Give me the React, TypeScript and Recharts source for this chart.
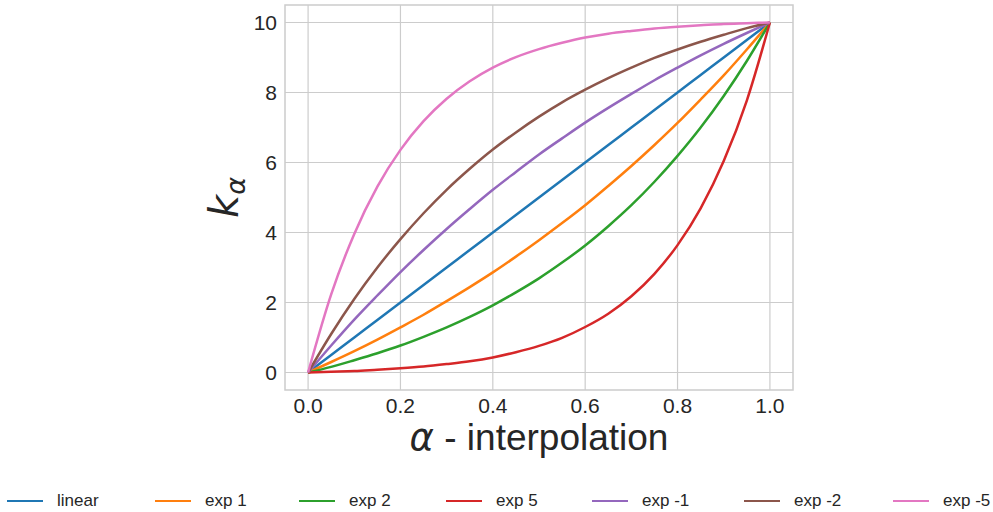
import { LineChart, Line, XAxis, YAxis, CartesianGrid, ReferenceArea } from 'recharts'

// alpha sample points
const alpha = [0, 0.05, 0.1, 0.15, 0.2, 0.25, 0.3, 0.35, 0.4, 0.45, 0.5, 0.55, 0.6, 0.65, 0.7, 0.75, 0.8, 0.85, 0.9, 0.95, 1]

const linear = [0, 0.5, 1, 1.5, 2, 2.5, 3, 3.5, 4, 4.5, 5, 5.5, 6, 6.5, 7, 7.5, 8, 8.5, 9, 9.5, 10]
const exp1 = [0, 0.3, 0.61, 0.94, 1.29, 1.65, 2.04, 2.44, 2.86, 3.31, 3.78, 4.27, 4.78, 5.33, 5.9, 6.5, 7.13, 7.8, 8.49, 9.23, 10]
const exp2 = [0, 0.16, 0.35, 0.55, 0.77, 1.02, 1.29, 1.59, 1.92, 2.29, 2.69, 3.14, 3.63, 4.18, 4.78, 5.45, 6.19, 7.0, 7.9, 8.9, 10]
const exp5 = [0, 0.02, 0.04, 0.08, 0.12, 0.17, 0.24, 0.32, 0.43, 0.58, 0.76, 0.99, 1.3, 1.68, 2.18, 2.82, 3.64, 4.69, 6.04, 7.77, 10]
const expM1 = [0, 0.77, 1.51, 2.2, 2.87, 3.5, 4.1, 4.67, 5.22, 5.73, 6.23, 6.69, 7.14, 7.56, 7.96, 8.35, 8.71, 9.06, 9.39, 9.7, 10]
const expM2 = [0, 1.1, 2.1, 3.0, 3.81, 4.55, 5.22, 5.82, 6.37, 6.86, 7.31, 7.72, 8.08, 8.41, 8.71, 8.99, 9.23, 9.45, 9.65, 9.84, 10]
const expM5 = [0, 2.23, 3.96, 5.31, 6.36, 7.18, 7.82, 8.32, 8.71, 9.01, 9.24, 9.42, 9.57, 9.68, 9.76, 9.83, 9.88, 9.92, 9.96, 9.98, 10]

const xTicks = [0, 0.2, 0.4, 0.6, 0.8, 1]
const yTicks = [0, 2, 4, 6, 8, 10]

const series = [
  { key: 'linear', name: 'linear', values: linear, color: '#1f77b4' },
  { key: 'exp1', name: 'exp 1', values: exp1, color: '#ff7f0e' },
  { key: 'exp2', name: 'exp 2', values: exp2, color: '#2ca02c' },
  { key: 'exp5', name: 'exp 5', values: exp5, color: '#d62728' },
  { key: 'expM1', name: 'exp -1', values: expM1, color: '#9467bd' },
  { key: 'expM2', name: 'exp -2', values: expM2, color: '#8c564b' },
  { key: 'expM5', name: 'exp -5', values: expM5, color: '#e377c2' },
]

// legend item left edges (matplotlib spreads them across the figure)
const legendLeft = [7, 155, 299, 446, 592, 744, 893]

const data = alpha.map((a, i) => {
  const row: Record<string, number> = { a }
  series.forEach((s) => {
    row[s.key] = s.values[i]
  })
  return row
})

const font = '"Liberation Sans", Arial, sans-serif'
const textColor = '#262626'
const gridColor = '#cccccc'

export default function App() {
  return (
    <div style={{ position: 'absolute', left: 0, top: 0, width: 993, height: 512, overflow: 'hidden', background: '#fff', fontFamily: font }}>
      <LineChart width={993} height={512} data={data} margin={{ top: 5, right: 200, left: 225, bottom: 52 }}>
        <CartesianGrid stroke={gridColor} strokeWidth={1.2} horizontalValues={yTicks} verticalValues={xTicks} />
        <ReferenceArea x1={-0.05} x2={1.05} y1={-0.5} y2={10.5} fill="none" stroke={gridColor} strokeWidth={1.5} ifOverflow="visible" />
        <XAxis
          dataKey="a"
          type="number"
          domain={[-0.05, 1.05]}
          ticks={xTicks}
          tickFormatter={(v: number) => v.toFixed(1)}
          axisLine={false}
          tickLine={false}
          tickSize={0}
          tickMargin={8}
          height={70}
          tick={{ fill: textColor, fontSize: 21, fontFamily: font }}
          label={{
            content: ({ viewBox }: any) => (
              <text x={viewBox.x + viewBox.width / 2} y={450} textAnchor="middle" fill={textColor} fontSize={37} fontFamily={font}>
                <tspan fontStyle="italic" fontFamily="DejaVu Sans">α</tspan> - interpolation
              </text>
            ),
          }}
        />
        <YAxis
          type="number"
          domain={[-0.5, 10.5]}
          ticks={yTicks}
          axisLine={false}
          tickLine={false}
          tickSize={0}
          tickMargin={8}
          width={60}
          tick={{ fill: textColor, fontSize: 21, fontFamily: font }}
          label={{
            content: ({ viewBox }: any) => (
              <text
                x={238}
                y={viewBox.y + viewBox.height / 2}
                transform={`rotate(-90, 238, ${viewBox.y + viewBox.height / 2})`}
                textAnchor="middle"
                fill={textColor}
                fontSize={40}
                fontFamily="DejaVu Sans"
                fontStyle="italic"
              >
                k
                <tspan fontSize={27} dy={7}>α</tspan>
              </text>
            ),
          }}
        />
        {series.map((s) => (
          <Line
            key={s.key}
            type="monotone"
            dataKey={s.key}
            name={s.name}
            stroke={s.color}
            strokeWidth={2.5}
            dot={false}
            isAnimationActive={false}
          />
        ))}
      </LineChart>
      {series.map((s, i) => (
        <div
          key={s.key}
          style={{ position: 'absolute', left: legendLeft[i], top: 489, display: 'flex', alignItems: 'center', height: 24, whiteSpace: 'nowrap' }}
        >
          <span style={{ display: 'inline-block', width: 36, height: 2.5, background: s.color, marginRight: 14, flexShrink: 0 }} />
          <span style={{ fontSize: 17, color: textColor }}>{s.name}</span>
        </div>
      ))}
    </div>
  )
}
